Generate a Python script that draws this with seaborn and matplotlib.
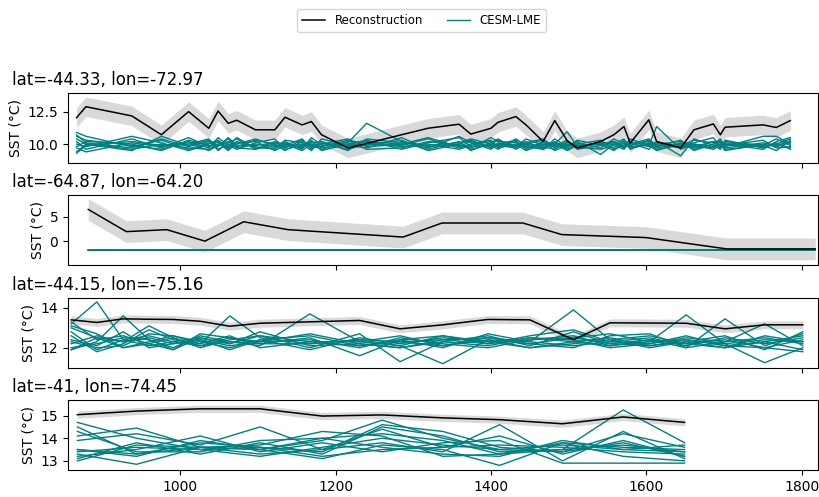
import matplotlib
matplotlib.use("Agg")
import numpy as np
import pandas as pd
import matplotlib.pyplot as plt
import seaborn as sns
from matplotlib.lines import Line2D

plt.rcParams['font.family'] = ['DejaVu Sans']

# ---------------- data ----------------
titles = ["lat=-44.33, lon=-72.97", "lat=-64.87, lon=-64.20",
          "lat=-44.15, lon=-75.16", "lat=-41, lon=-74.45"]

# Panel 1
t1 = [867, 879, 938, 976, 1011, 1037, 1049, 1062, 1073, 1097, 1122, 1135, 1157, 1169, 1182,
      1216, 1240, 1285, 1319, 1359, 1374, 1400, 1409, 1432, 1445, 1467, 1482, 1498, 1511,
      1541, 1558, 1571, 1579, 1603, 1613, 1644, 1661, 1686, 1695, 1701, 1750, 1767, 1785]
recon1 = [12.04, 12.88, 12.17, 10.72, 12.5, 11.22, 12.55, 11.6, 11.84, 11.1, 11.1, 12.07,
          11.48, 11.74, 10.72, 9.7, 10.05, 10.72, 11.22, 11.53, 10.77, 11.22, 11.68, 12.12,
          11.48, 10.2, 11.81, 10.26, 9.7, 10.2, 10.72, 11.35, 10.08, 11.87, 10.2, 9.7, 11.1,
          11.55, 10.72, 11.3, 11.48, 11.28, 11.81]
unc1 = 0.75
ens1 = [
    [10.9, 10.6, 9.8, 10.3, 9.6, 10.1, 9.9, 10.4, 9.7, 10.0, 9.8, 10.2, 9.6, 10.5, 9.9, 10.1, 11.6, 10.2, 9.8, 10.0, 10.3, 9.7, 10.1, 9.9, 10.2, 9.6, 10.0, 10.95, 9.8, 10.1, 9.7, 10.3, 9.9, 10.2, 9.7, 10.0, 9.8, 10.2, 9.9, 10.1, 9.8, 10.0, 9.7],
    [10.2, 9.6, 10.4, 9.7, 10.5, 9.8, 10.2, 9.6, 10.0, 10.4, 9.9, 9.7, 10.3, 9.8, 10.1, 9.6, 10.0, 9.9, 10.4, 9.7, 10.0, 10.3, 9.8, 10.2, 9.7, 10.1, 9.9, 10.3, 9.6, 9.9, 10.2, 9.8, 10.4, 9.9, 11.35, 9.6, 10.0, 9.7, 10.2, 9.8, 10.6, 10.6, 10.0],
    [9.4, 10.0, 9.5, 10.6, 9.9, 10.3, 9.5, 10.1, 10.4, 9.6, 10.2, 9.8, 10.0, 9.5, 10.4, 9.9, 9.7, 10.5, 9.6, 10.2, 9.5, 10.1, 10.4, 9.6, 10.0, 10.3, 9.5, 9.9, 10.2, 9.2, 10.0, 10.4, 9.6, 10.1, 9.8, 10.3, 9.5, 10.0, 10.4, 9.6, 9.9, 9.5, 10.3],
    [10.6, 10.3, 9.9, 9.6, 10.2, 9.7, 10.5, 9.9, 9.6, 10.1, 10.4, 9.6, 9.9, 10.2, 9.7, 10.0, 10.3, 9.6, 10.1, 10.5, 9.8, 9.9, 9.6, 10.4, 9.9, 9.7, 10.2, 9.6, 10.0, 10.3, 9.6, 9.9, 10.1, 9.6, 10.2, 9.1, 10.4, 9.9, 9.6, 10.3, 9.7, 10.1, 9.6],
    [10.0, 9.8, 10.6, 10.1, 9.5, 10.0, 10.3, 9.7, 10.2, 9.8, 9.6, 10.3, 10.1, 9.7, 10.0, 10.4, 9.8, 10.0, 9.7, 10.6, 10.1, 9.6, 10.0, 9.8, 10.4, 9.9, 10.1, 9.7, 10.3, 9.9, 10.1, 9.7, 10.0, 10.4, 9.9, 9.8, 10.1, 10.5, 9.8, 10.0, 9.6, 10.2, 10.5],
    [9.7, 9.4, 10.1, 9.8, 10.0, 10.4, 9.6, 10.0, 9.8, 10.3, 10.0, 9.5, 10.2, 9.9, 9.6, 10.2, 10.1, 9.8, 10.0, 9.6, 9.9, 10.2, 9.7, 10.0, 9.5, 10.0, 9.8, 10.1, 9.9, 10.0, 9.5, 10.1, 9.8, 9.9, 9.5, 10.1, 9.7, 9.8, 10.0, 9.5, 10.0, 9.8, 10.1],
    [10.4, 10.0, 9.6, 10.0, 9.7, 9.6, 10.0, 9.8, 10.5, 9.7, 9.7, 10.0, 9.8, 10.1, 10.2, 9.5, 10.4, 10.1, 9.9, 10.1, 10.4, 10.0, 9.9, 9.7, 10.1, 10.4, 9.7, 10.0, 9.7, 10.2, 9.9, 9.6, 10.2, 9.8, 10.0, 10.2, 9.9, 9.6, 9.9, 9.9, 10.3, 9.7, 9.8],
    [9.8, 10.2, 10.0, 9.5, 10.3, 9.9, 9.8, 10.5, 9.9, 9.9, 10.1, 10.0, 9.5, 10.0, 9.8, 10.3, 9.6, 9.7, 10.2, 9.9, 9.7, 10.5, 10.2, 10.1, 9.8, 9.6, 10.4, 9.8, 10.1, 9.7, 10.4, 10.0, 9.7, 10.0, 9.6, 9.9, 10.3, 10.1, 9.7, 10.2, 9.9, 10.4, 9.9],
    [10.7, 10.1, 9.7, 10.4, 9.8, 10.2, 10.1, 9.5, 10.1, 10.2, 9.5, 9.9, 10.4, 9.6, 10.1, 9.8, 10.2, 10.0, 10.5, 9.8, 10.2, 9.8, 10.0, 10.3, 9.6, 10.2, 10.0, 9.5, 9.9, 10.0, 10.2, 9.8, 9.9, 10.3, 9.9, 10.0, 9.6, 10.2, 10.1, 9.7, 10.1, 9.9, 10.2],
    [9.3, 9.9, 10.2, 9.9, 10.1, 9.5, 9.9, 10.2, 9.7, 9.6, 10.0, 10.1, 9.7, 10.3, 9.5, 10.0, 9.9, 10.3, 9.5, 10.0, 9.6, 10.0, 10.3, 9.8, 10.0, 9.8, 9.6, 10.2, 9.8, 9.6, 9.9, 10.2, 9.7, 10.0, 10.1, 9.7, 10.0, 9.8, 10.3, 10.0, 9.8, 10.0, 10.4],
]

# Panel 2
t2 = [882, 931, 983, 1032, 1082, 1139, 1287, 1337, 1441, 1491, 1599, 1703, 1817]
recon2 = [6.5, 2.0, 2.4, 0.07, 4.0, 2.4, 0.9, 3.75, 3.75, 1.4, 0.8, -1.5, -1.5]
unc2 = 2.2
ens2 = [
    [-1.78, -1.76, -1.79, -1.77, -1.75, -1.74, -1.72, -1.70, -1.71, -1.73, -1.72, -1.74, -1.76],
    [-1.74, -1.75, -1.73, -1.76, -1.72, -1.71, -1.74, -1.73, -1.69, -1.72, -1.75, -1.73, -1.71],
    [-1.80, -1.78, -1.77, -1.75, -1.76, -1.74, -1.75, -1.72, -1.73, -1.70, -1.73, -1.76, -1.78],
    [-1.76, -1.74, -1.76, -1.74, -1.73, -1.76, -1.71, -1.74, -1.72, -1.74, -1.70, -1.72, -1.74],
    [-1.79, -1.77, -1.75, -1.78, -1.74, -1.72, -1.73, -1.71, -1.74, -1.71, -1.74, -1.71, -1.73],
    [-1.77, -1.79, -1.74, -1.73, -1.77, -1.75, -1.76, -1.75, -1.70, -1.75, -1.71, -1.75, -1.72],
]

# Panel 3
t3 = [860, 893, 927, 960, 991, 1026, 1064, 1103, 1167, 1231, 1283, 1338, 1396, 1450, 1506,
      1553, 1604, 1651, 1701, 1752, 1801]
recon3 = [13.4, 13.27, 13.45, 13.43, 13.42, 13.33, 13.08, 13.23, 13.3, 13.37, 12.95, 13.15,
          13.42, 13.4, 12.4, 13.25, 13.24, 13.23, 12.95, 13.15, 13.15]
unc3 = 0.2
ens3 = [
    [13.3, 12.4, 12.6, 12.2, 11.9, 12.5, 12.2, 12.6, 12.3, 12.1, 12.4, 12.6, 12.2, 12.5, 12.3, 12.1, 12.4, 12.2, 12.0, 12.3, 12.6],
    [13.2, 14.3, 12.4, 12.6, 12.3, 12.1, 12.5, 12.3, 12.7, 12.2, 12.0, 12.4, 12.2, 12.6, 12.9, 12.3, 12.2, 12.5, 12.3, 13.2, 12.1],
    [12.6, 11.8, 12.2, 12.9, 12.4, 12.2, 13.6, 12.5, 12.2, 12.4, 12.3, 12.1, 12.5, 12.3, 13.9, 12.4, 12.6, 12.2, 12.4, 12.0, 11.8],
    [11.9, 12.3, 13.6, 12.4, 12.0, 12.6, 12.3, 12.1, 13.7, 12.3, 12.1, 11.2, 12.4, 12.2, 12.5, 12.7, 12.3, 13.65, 12.2, 12.4, 12.3],
    [12.2, 12.6, 12.3, 13.1, 12.5, 12.0, 12.4, 12.6, 12.0, 12.7, 11.3, 12.3, 12.6, 12.1, 12.8, 12.2, 12.4, 12.0, 13.45, 12.1, 12.7],
    [12.4, 12.1, 12.8, 12.0, 12.2, 12.4, 12.1, 12.3, 12.4, 12.0, 12.5, 12.2, 12.0, 12.4, 12.6, 12.1, 12.3, 12.4, 12.2, 11.25, 12.0],
    [13.0, 12.5, 12.0, 12.3, 12.6, 12.3, 12.0, 12.4, 11.9, 12.5, 12.2, 12.5, 12.3, 12.0, 12.3, 12.5, 12.1, 12.3, 12.0, 12.6, 12.3],
    [12.0, 12.2, 12.5, 12.4, 11.9, 12.7, 12.5, 12.2, 12.5, 11.6, 12.4, 12.0, 12.7, 12.3, 12.1, 12.3, 12.5, 12.1, 12.5, 12.2, 12.5],
    [12.8, 11.9, 12.4, 12.1, 12.3, 12.5, 12.2, 12.8, 12.1, 12.2, 12.0, 12.3, 12.1, 12.5, 12.4, 12.0, 12.2, 12.6, 12.1, 12.3, 11.9],
    [12.3, 12.0, 12.1, 12.7, 12.6, 12.2, 12.6, 12.0, 12.3, 12.3, 12.6, 12.1, 12.4, 12.0, 12.2, 12.4, 12.0, 12.3, 12.6, 11.9, 12.8],
    [11.9, 12.5, 12.3, 12.5, 12.2, 12.4, 11.9, 12.4, 12.6, 12.1, 12.3, 12.4, 12.5, 12.2, 12.0, 12.6, 12.7, 12.0, 12.3, 12.5, 12.2],
    [13.1, 12.7, 12.0, 12.2, 12.5, 12.1, 12.3, 12.2, 12.2, 12.4, 12.1, 12.6, 12.3, 12.4, 12.5, 12.2, 12.1, 12.4, 12.1, 12.0, 12.4],
]

# Panel 4
t4 = [868, 944, 1026, 1103, 1183, 1260, 1338, 1411, 1492, 1570, 1649]
recon4 = [15.04, 15.2, 15.3, 15.3, 14.98, 15.03, 14.9, 14.82, 14.64, 14.94, 14.7]
unc4 = 0.16
ens4 = [
    [14.7, 14.0, 13.5, 13.6, 13.4, 14.6, 14.3, 13.6, 13.4, 13.8, 13.2],
    [14.5, 13.3, 13.6, 13.5, 13.9, 14.8, 14.0, 13.5, 13.7, 13.5, 13.4],
    [14.3, 13.4, 13.4, 13.9, 14.0, 14.2, 13.9, 13.3, 13.5, 15.25, 13.8],
    [14.1, 14.45, 13.6, 13.3, 13.5, 14.4, 13.6, 13.7, 13.6, 13.4, 13.3],
    [13.9, 14.2, 13.7, 14.5, 13.5, 13.8, 13.4, 14.6, 13.0, 14.3, 13.1],
    [13.5, 13.2, 13.9, 13.5, 13.1, 13.7, 13.5, 12.8, 13.8, 13.6, 13.5],
    [13.4, 13.6, 13.5, 13.2, 13.6, 14.0, 13.7, 13.5, 13.4, 14.2, 13.6],
    [13.3, 12.85, 13.6, 13.7, 14.3, 14.1, 13.2, 13.3, 13.8, 13.2, 13.0],
    [13.2, 13.5, 14.1, 13.4, 13.8, 13.4, 13.8, 13.9, 12.9, 12.9, 12.9],
    [13.1, 13.8, 13.3, 13.8, 13.3, 14.5, 14.1, 13.4, 13.5, 13.7, 13.4],
    [13.0, 13.7, 13.6, 13.5, 14.0, 13.6, 13.3, 13.2, 13.9, 13.5, 13.7],
    [13.5, 13.3, 13.8, 13.6, 13.2, 13.5, 13.6, 14.1, 13.3, 13.9, 13.2],
]

ylims = [(8.57, 13.94), (-4.8, 9.34), (11.0, 14.5), (12.59, 15.67)]
yticks = [[10.0, 12.5], [0, 5], [12, 14], [13, 14, 15]]
xticks = [1000, 1200, 1400, 1600, 1800]

panels = [(t1, recon1, unc1, ens1), (t2, recon2, unc2, ens2),
          (t3, recon3, unc3, ens3), (t4, recon4, unc4, ens4)]

# ---------------- plot ----------------
fig, axes = plt.subplots(4, 1, figsize=(8.2, 4.97), dpi=100, sharex=True)
fig.subplots_adjust(left=0.083, right=0.997, top=0.813, bottom=0.054, hspace=0.47)

for i, (ax, (t, rec, unc, ens)) in enumerate(zip(axes, panels)):
    t_arr = np.array(t, dtype=float)
    rec_arr = np.array(rec, dtype=float)
    ax.fill_between(t_arr, rec_arr - unc, rec_arr + unc, color='lightgray',
                    alpha=0.85, lw=0, zorder=1)
    df = pd.DataFrame({
        'year': np.tile(t_arr, len(ens)),
        'sst': np.concatenate([np.array(m, dtype=float) for m in ens]),
        'member': np.repeat(np.arange(len(ens)), len(t_arr)),
    })
    sns.lineplot(data=df, x='year', y='sst', units='member', estimator=None,
                 color='teal', lw=1, ax=ax, legend=False, zorder=2)
    sns.lineplot(x=t_arr, y=rec_arr, color='black', lw=1.1, ax=ax, zorder=3)
    ax.set_ylim(*ylims[i])
    ax.set_yticks(yticks[i])
    ax.set_xlim(856, 1820)
    ax.set_xticks(xticks)
    ax.set_xlabel('')
    ax.set_ylabel('SST (°C)', fontsize=10)
    ax.tick_params(labelsize=10)
    ax.set_title(titles[i], loc='left', x=-0.075, fontsize=12)

handles = [Line2D([], [], color='black', lw=1.1), Line2D([], [], color='teal', lw=1)]
fig.legend(handles, ['Reconstruction', 'CESM-LME'], loc='upper center',
           bbox_to_anchor=(0.514, 0.993), ncol=2, fontsize=8.5)

fig.savefig('out.png', dpi=100)
